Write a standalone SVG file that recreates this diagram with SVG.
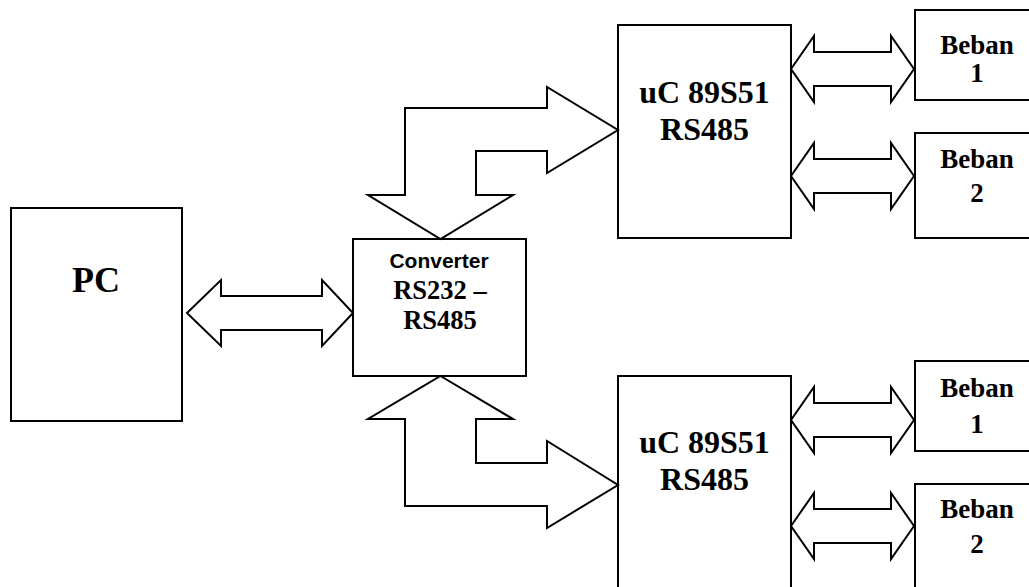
<svg xmlns="http://www.w3.org/2000/svg" width="1029" height="587" viewBox="0 0 1029 587">
<style>
.box{fill:#fff;stroke:#000;stroke-width:2}
.arr{fill:#fff;stroke:#000;stroke-width:2;stroke-linejoin:miter}
.tb{font-family:"Liberation Serif","Times New Roman",serif;font-weight:bold;fill:#000;text-anchor:middle}
.ts{font-family:"Liberation Sans",Arial,sans-serif;font-weight:bold;fill:#000;text-anchor:middle}
</style>
<defs>
<path id="dbl" d="M0,0 L23,-33 L23,-17 L100,-17 L100,-33 L123,0 L100,33 L100,17 L23,17 L23,33 Z"/>
</defs>
<rect width="1029" height="587" fill="#fff"/>
<g id="pc">
<rect class="box" x="11" y="208" width="171" height="213"/>
<text class="tb" x="96" y="292" font-size="36">PC</text>
</g>
<g id="converter">
<rect class="box" x="353" y="239" width="173" height="137"/>
<text class="ts" x="439" y="268" font-size="21">Converter</text>
<text class="tb" x="440" y="299" font-size="26.5">RS232 –</text>
<text class="tb" x="440" y="329" font-size="26.5">RS485</text>
</g>
<g id="uc1">
<rect class="box" x="618" y="25" width="173" height="213"/>
<text class="tb" x="704.5" y="103" font-size="32">uC 89S51</text>
<text class="tb" x="704.5" y="140" font-size="32">RS485</text>
</g>
<g id="uc2">
<rect class="box" x="618" y="376" width="173" height="230"/>
<text class="tb" x="704.5" y="453" font-size="32">uC 89S51</text>
<text class="tb" x="704.5" y="490" font-size="32">RS485</text>
</g>
<g id="beban1a">
<rect class="box" x="915" y="10" width="130" height="90"/>
<text class="tb" x="977" y="54" font-size="27">Beban</text>
<text class="tb" x="977" y="82" font-size="27">1</text>
</g>
<g id="beban2a">
<rect class="box" x="915" y="133" width="130" height="105"/>
<text class="tb" x="977" y="168" font-size="27">Beban</text>
<text class="tb" x="977" y="202" font-size="27">2</text>
</g>
<g id="beban1b">
<rect class="box" x="915" y="361" width="130" height="90"/>
<text class="tb" x="977" y="397" font-size="27">Beban</text>
<text class="tb" x="977" y="433" font-size="27">1</text>
</g>
<g id="beban2b">
<rect class="box" x="915" y="484" width="130" height="120"/>
<text class="tb" x="977" y="518" font-size="27">Beban</text>
<text class="tb" x="977" y="553" font-size="27">2</text>
</g>
<g id="connectors">
<path class="arr" d="M187,313 L221,280 L221,296 L322,296 L322,280 L353,313 L322,346 L322,330 L221,330 L221,346 Z"/>
<path class="arr" d="M405,195 L405,108 L547,108 L547,87 L618,130 L547,173 L547,151 L476,151 L476,195 L513,195 L440.5,239 L368,195 Z"/>
<path class="arr" d="M440.5,376 L513,419 L476,419 L476,463 L547,463 L547,441 L618,485 L547,528 L547,506 L405,506 L405,419 L368,419 Z"/>
<use href="#dbl" class="arr" transform="translate(791,69)"/>
<use href="#dbl" class="arr" transform="translate(791,176)"/>
<use href="#dbl" class="arr" transform="translate(791,420)"/>
<use href="#dbl" class="arr" transform="translate(791,526)"/>
</g>
</svg>
